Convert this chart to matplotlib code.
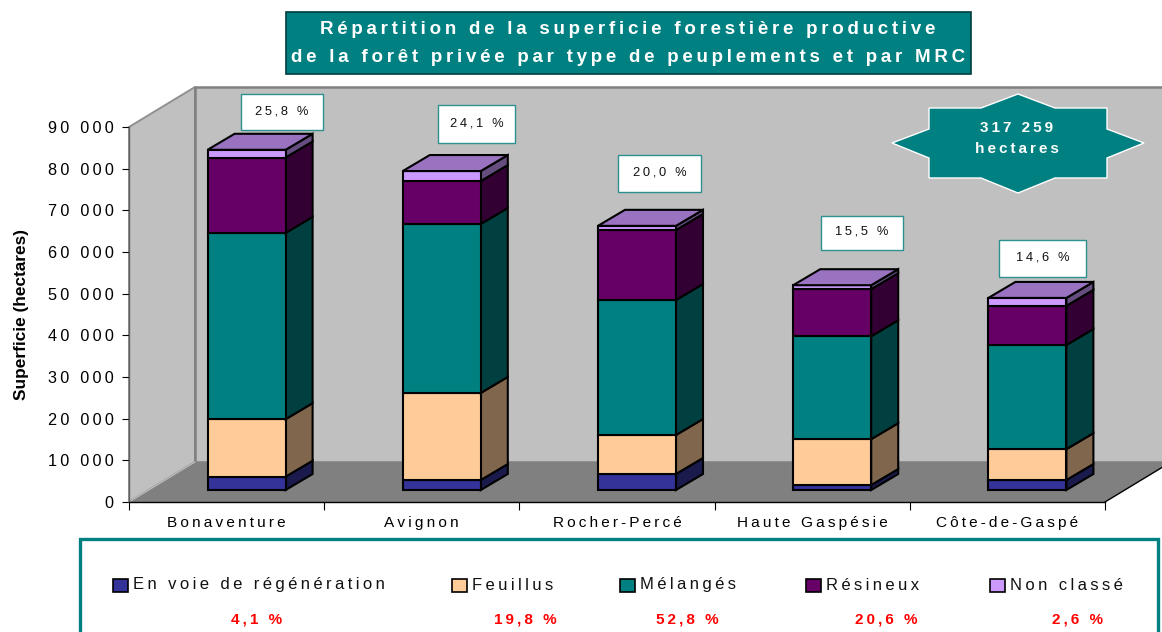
import matplotlib
matplotlib.use("Agg")
from matplotlib import pyplot as plt
from matplotlib.patches import Polygon, Rectangle
from matplotlib.colors import to_rgb

plt.rcParams['font.family'] = ['Liberation Sans', 'DejaVu Sans']

W, H = 1162, 632

# ===== data =====
categories = ['Bonaventure', 'Avignon', 'Rocher-Percé', 'Haute Gaspésie', 'Côte-de-Gaspé']
series_names = ['En voie de régénération', 'Feuillus', 'Mélangés', 'Résineux', 'Non classé']
regeneration = [3200, 2400, 3850, 1200, 2400]
feuillus = [13800, 20900, 9350, 11000, 7400]
melanges = [44700, 40550, 32400, 24700, 25000]
resineux = [18100, 10300, 16800, 11300, 9400]
non_classe = [1850, 2400, 1000, 950, 1900]
series = [regeneration, feuillus, melanges, resineux, non_classe]
colors = ['#333399', '#FFCC99', '#008080', '#660066', '#CC99FF']
series_shares = ['4,1 %', '19,8 %', '52,8 %', '20,6 %', '2,6 %']
mrc_shares = ['25,8 %', '24,1 %', '20,0 %', '15,5 %', '14,6 %']
yticks = list(range(0, 90001, 10000))
ytick_labels = ['0', '10 000', '20 000', '30 000', '40 000', '50 000',
                '60 000', '70 000', '80 000', '90 000']


def spaced(s):
    # pas de letter-spacing dans matplotlib : espaces fines entre les lettres
    return '\u2009'.join(s)


def shade(c, f):
    return tuple(v * f for v in to_rgb(c))


fig = plt.figure(figsize=(W / 100, H / 100), dpi=100, facecolor='white')

# axe principal : plan avant du graphique
ax = fig.add_axes([129 / W, 1 - 502 / H, 976 / W, 375 / H])
ax.set_xlim(0, 5)
ax.set_ylim(0, 90000)
ax.patch.set_visible(False)
px_x = 5 / 976
px_y = 90000 / 375

# ===== murs et plancher =====
wall_dx, wall_dy = 66 * px_x, 40 * px_y
ax.add_patch(Polygon([(0, 0), (wall_dx, wall_dy), (wall_dx, 90000 + wall_dy), (0, 90000)],
                     fc='#C0C0C0', ec='#909090', lw=1.4, clip_on=False, zorder=1))
ax.add_patch(Rectangle((wall_dx, wall_dy), 5, 90000, fc='#C0C0C0', ec='#808080', lw=1.8,
                       clip_on=False, zorder=1))
ax.add_patch(Polygon([(0, 0), (wall_dx, wall_dy), (5 + wall_dx, wall_dy), (5, 0)],
                     fc='#808080', ec='none', clip_on=False, zorder=1.5))
ax.plot([5, 5 + wall_dx], [0, wall_dy], color='black', lw=1, clip_on=False, zorder=1.6)
ax.plot([0, wall_dx], [0, wall_dy], color='#C0C0C0', lw=0.8, clip_on=False, zorder=1.6)

# ===== barres empilees =====
bar_w = 78 * px_x
off_x, off_y = 20 * px_x, 12 * px_y
depth_x, depth_y = 27 * px_x, 16 * px_y

for i in range(len(categories)):
    x0 = i + 0.5 - bar_w / 2 + off_x
    x1 = x0 + bar_w
    base = 0
    for vals, col in zip(series, colors):
        top = base + vals[i]
        y0, y1 = base + off_y, top + off_y
        ax.add_patch(Polygon([(x1, y0), (x1 + depth_x, y0 + depth_y),
                              (x1 + depth_x, y1 + depth_y), (x1, y1)],
                             fc=shade(col, 0.5), ec='black', lw=1.5, clip_on=False, zorder=3))
        ax.add_patch(Rectangle((x0, y0), bar_w, vals[i], fc=col, ec='black', lw=1.5,
                               clip_on=False, zorder=3))
        base = top
    y1 = base + off_y
    ax.add_patch(Polygon([(x0, y1), (x1, y1), (x1 + depth_x, y1 + depth_y), (x0 + depth_x, y1 + depth_y)],
                         fc=shade(colors[-1], 0.75), ec='black', lw=1.5, clip_on=False, zorder=3))

# ===== axes =====
for side in ['top', 'right']:
    ax.spines[side].set_visible(False)
for side in ['left', 'bottom']:
    ax.spines[side].set_linewidth(1)
    ax.spines[side].set_zorder(2)
ax.spines['left'].set_color('#606060')
ax.set_yticks(yticks)
ax.set_yticklabels([spaced(t) for t in ytick_labels], fontsize=11.7)
ax.set_xticks(range(6))
ax.set_xticklabels([])
ax.set_xticks([i + 0.5 for i in range(5)], minor=True)
ax.set_xticklabels([spaced(c) for c in categories], minor=True, fontsize=11.1)
ax.tick_params(axis='x', which='major', length=6, width=0.8)
ax.tick_params(axis='x', which='minor', length=0, pad=10)
ax.tick_params(axis='y', length=5, width=0.8, pad=6)

# ===== annotations (coordonnees en pixels) =====
ov = fig.add_axes([0, 0, 1, 1], zorder=5)
ov.set_xlim(0, W)
ov.set_ylim(H, 0)
ov.axis('off')

ov.text(22, 315, 'Superficie (hectares)', rotation=90, ha='center', va='center',
        fontsize=12.4, fontweight='bold')

# titre
ov.add_patch(Rectangle((286, 12), 685, 62, fc='#008080', ec='#003C3C', lw=1.2))
ov.text(628, 30, spaced('Répartition de la superficie forestière productive'),
        ha='center', va='center', color='white', fontsize=13.5, fontweight='bold')
ov.text(628, 57, spaced('de la forêt privée par type de peuplements et par MRC'),
        ha='center', va='center', color='white', fontsize=13.5, fontweight='bold')

# etiquettes de part par MRC
share_boxes = [(241, 94, 82, 36), (438, 105, 77, 38), (618, 155, 83, 37),
               (821, 216, 82, 34), (999, 240, 87, 37)]
for (bx, by, bw, bh), label in zip(share_boxes, mrc_shares):
    ov.add_patch(Rectangle((bx, by), bw, bh, fc='white', ec='#2F9090', lw=1))
    ov.text(bx + bw / 2, by + bh / 2 - 1, spaced(label), ha='center', va='center',
            fontsize=9.3, color='#111111')

# etoile du total
star = [(1018, 94), (1055, 108), (1107, 108), (1107, 129), (1144, 143), (1107, 158),
        (1107, 178), (1055, 178), (1018, 193), (981, 178), (929, 178), (929, 158),
        (892, 143), (929, 129), (929, 108), (981, 108)]
ov.add_patch(Polygon(star, fc='#008080', ec='white', lw=1))
ov.text(1017, 128, spaced('317 259'), ha='center', va='center', color='white',
        fontsize=11, fontweight='bold')
ov.text(1017, 149, spaced('hectares'), ha='center', va='center', color='white',
        fontsize=11, fontweight='bold')

# legende
ov.add_patch(Rectangle((80, 539), 1078, 120, fc='white', ec='#008080', lw=2.4, clip_on=True))
swatch_x = [113, 452, 620, 806, 990]
share_x = [257, 525, 687, 886, 1078]
for sx, name, col, pct_x, pct in zip(swatch_x, series_names, colors, share_x, series_shares):
    ov.add_patch(Rectangle((sx, 579), 15, 13, fc=col, ec='black', lw=1.2))
    ov.text(sx + 20, 585, spaced(name), ha='left', va='center', fontsize=12, color='#111111')
    ov.text(pct_x, 619, spaced(pct), ha='center', va='center', fontsize=11,
            fontweight='bold', color='#FF0000')

fig.savefig('out.png', dpi=100)
